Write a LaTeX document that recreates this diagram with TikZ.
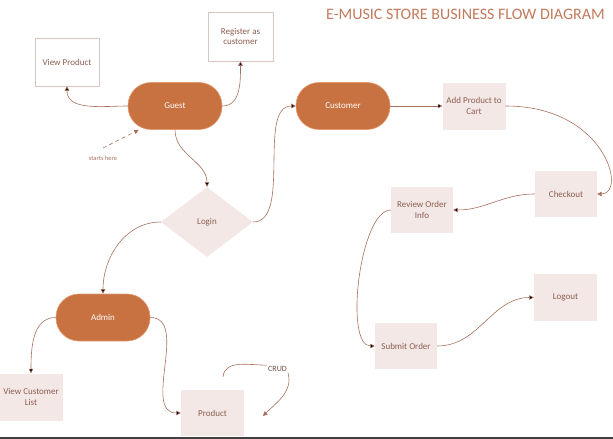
\documentclass[tikz,border=0pt]{standalone}
\usepackage{fontspec}
\setmainfont{Carlito}
\usetikzlibrary{shapes.geometric, arrows.meta, positioning}

\definecolor{rust}{HTML}{C87141}
\definecolor{rustline}{HTML}{E49A70}
\definecolor{blush}{HTML}{F3E8E6}
\definecolor{wire}{HTML}{A8705C}
\definecolor{ink}{HTML}{8C5E50}
\definecolor{frame}{HTML}{D9C6C2}
\definecolor{headline}{HTML}{C27A5C}

\begin{document}
\begin{tikzpicture}[x=1pt, y=1pt, >={Triangle[length=4.5pt,width=4.5pt]},
    every node/.style={font=\fontsize{9}{10.5}\selectfont, text=ink, align=center},
    pill/.style={rectangle, rounded corners=23pt, fill=rust, draw=rustline, line width=0.6pt,
        minimum width=94pt, minimum height=47pt, text=white},
    card/.style={rectangle, fill=blush, minimum width=63pt, minimum height=47pt, inner sep=1pt},
    outcard/.style={rectangle, fill=white, draw=frame, line width=0.6pt,
        minimum width=64pt, minimum height=48pt, inner sep=1pt},
    choice/.style={diamond, fill=blush, minimum width=92pt, minimum height=70pt, inner sep=0pt},
    flow/.style={draw=wire, line width=0.6pt}]
    \useasboundingbox (0,0) rectangle (613,-439);

    \node[font=\fontsize{16}{18}\selectfont, text=headline] (title) at (465.5,-14) {E-MUSIC STORE BUSINESS FLOW DIAGRAM};

    \node[outcard] (view_product) at (67,-62) {View Product};
    \node[outcard, minimum width=65pt, minimum height=49pt] (register) at (240.5,-36.5) {Register as\\customer};
    \node[pill] (guest) at (175,-106) {Guest};
    \node[pill] (customer) at (343,-106) {Customer};
    \node[card] (add_cart) at (474,-106) {Add Product to\\Cart};
    \node[card, minimum width=62pt, minimum height=46pt] (checkout) at (566,-194) {Checkout};
    \node[card, minimum width=62pt, minimum height=46pt] (review) at (422,-210) {Review Order\\Info};
    \node[card, minimum width=62pt, minimum height=46pt] (submit) at (406,-346) {Submit Order};
    \node[card] (logout) at (565.5,-297.5) {Logout};
    \node[choice] (login) at (207,-222) {Login};
    \node[pill] (admin) at (103,-317.5) {Admin};
    \node[card] (view_cust) at (31,-397) {View Customer\\List};
    \node[card, minimum height=46pt] (product) at (212.5,-413) {Product};

    \node[font=\fontsize{6.5}{8}\selectfont, text=wire] (starts) at (103,-158) {starts here};
    \node[font=\fontsize{8}{9}\selectfont, text=ink!80!black, inner sep=1pt] (crud) at (277.5,-369) {CRUD};
    \coordinate (start_pt) at (103,-148);
    \coordinate (crud_in) at (223,-377);
    \coordinate (crud_out) at (263,-416);

    % guest side
    \path[->, flow]
        (guest)     edge[out=180, in=-90] (view_product)
                    edge[out=0, in=-90] (register)
                    edge[out=-90, in=90] (login)
        (login)     edge[out=0, in=180, looseness=0.8] (customer)
                    edge[out=180, in=90] (admin);
    \draw[->, flow, dashed, dash pattern=on 4pt off 3pt] (start_pt) -- ([xshift=11pt]guest.south west);

    % customer side
    \path[->, flow]
        (customer)  edge (add_cart)
        (checkout)  edge[out=180, in=0] (review)
        (review)    edge[out=180, in=180, looseness=0.58] (submit)
        (submit)    edge[out=0, in=180] (logout);
    \draw[->, flow] (add_cart.east) .. controls +(100,0) and +(30,0) .. (checkout.east);

    % admin side
    \path[->, flow]
        (admin)     edge[out=180, in=90] (view_cust)
                    edge[out=0, in=180] (product);
    \draw[flow] (crud_in) to[out=85, in=180] (crud.north west);
    \draw[->, flow] (crud.south east) to[out=-75, in=45] (crud_out);

    \fill[black!75] (0,-436.5) rectangle (613,-439);
\end{tikzpicture}
\end{document}
